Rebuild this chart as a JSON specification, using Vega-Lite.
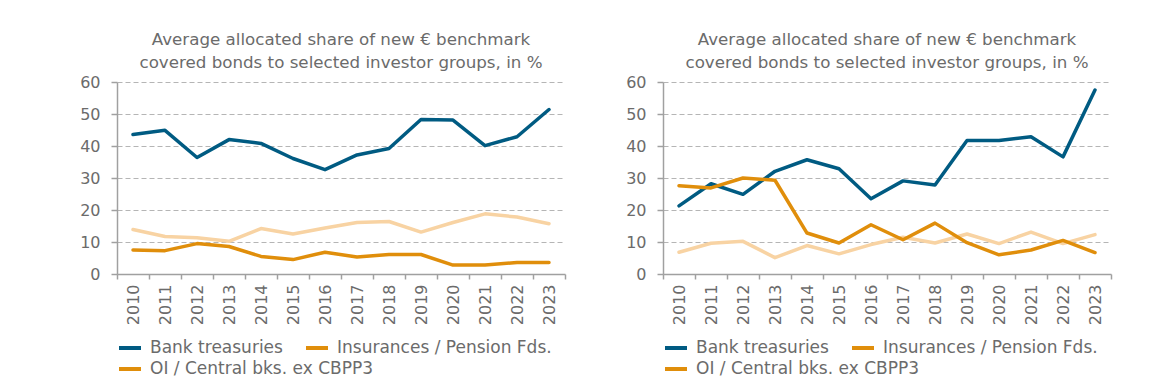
{
  "$schema": "https://vega.github.io/schema/vega-lite/v6.json",
  "padding": {"left": 79, "top": 32, "right": 10, "bottom": 5},
  "background": "white",
  "datasets": {
    "shares": [
      {"panel": "A", "year": "2010", "series": "Bank treasuries", "value": 43.6},
      {"panel": "A", "year": "2011", "series": "Bank treasuries", "value": 44.9},
      {"panel": "A", "year": "2012", "series": "Bank treasuries", "value": 36.4},
      {"panel": "A", "year": "2013", "series": "Bank treasuries", "value": 42.0},
      {"panel": "A", "year": "2014", "series": "Bank treasuries", "value": 40.8},
      {"panel": "A", "year": "2015", "series": "Bank treasuries", "value": 36.1},
      {"panel": "A", "year": "2016", "series": "Bank treasuries", "value": 32.6},
      {"panel": "A", "year": "2017", "series": "Bank treasuries", "value": 37.2},
      {"panel": "A", "year": "2018", "series": "Bank treasuries", "value": 39.2},
      {"panel": "A", "year": "2019", "series": "Bank treasuries", "value": 48.3},
      {"panel": "A", "year": "2020", "series": "Bank treasuries", "value": 48.1},
      {"panel": "A", "year": "2021", "series": "Bank treasuries", "value": 40.1},
      {"panel": "A", "year": "2022", "series": "Bank treasuries", "value": 42.9},
      {"panel": "A", "year": "2023", "series": "Bank treasuries", "value": 51.4},
      {"panel": "A", "year": "2010", "series": "Insurances / Pension Fds.", "value": 13.9},
      {"panel": "A", "year": "2011", "series": "Insurances / Pension Fds.", "value": 11.7},
      {"panel": "A", "year": "2012", "series": "Insurances / Pension Fds.", "value": 11.3},
      {"panel": "A", "year": "2013", "series": "Insurances / Pension Fds.", "value": 10.2},
      {"panel": "A", "year": "2014", "series": "Insurances / Pension Fds.", "value": 14.2},
      {"panel": "A", "year": "2015", "series": "Insurances / Pension Fds.", "value": 12.5},
      {"panel": "A", "year": "2016", "series": "Insurances / Pension Fds.", "value": 14.4},
      {"panel": "A", "year": "2017", "series": "Insurances / Pension Fds.", "value": 16.1},
      {"panel": "A", "year": "2018", "series": "Insurances / Pension Fds.", "value": 16.4},
      {"panel": "A", "year": "2019", "series": "Insurances / Pension Fds.", "value": 13.1},
      {"panel": "A", "year": "2020", "series": "Insurances / Pension Fds.", "value": 16.1},
      {"panel": "A", "year": "2021", "series": "Insurances / Pension Fds.", "value": 18.8},
      {"panel": "A", "year": "2022", "series": "Insurances / Pension Fds.", "value": 17.8},
      {"panel": "A", "year": "2023", "series": "Insurances / Pension Fds.", "value": 15.7},
      {"panel": "A", "year": "2010", "series": "OI / Central bks. ex CBPP3", "value": 7.5},
      {"panel": "A", "year": "2011", "series": "OI / Central bks. ex CBPP3", "value": 7.3},
      {"panel": "A", "year": "2012", "series": "OI / Central bks. ex CBPP3", "value": 9.5},
      {"panel": "A", "year": "2013", "series": "OI / Central bks. ex CBPP3", "value": 8.6},
      {"panel": "A", "year": "2014", "series": "OI / Central bks. ex CBPP3", "value": 5.5},
      {"panel": "A", "year": "2015", "series": "OI / Central bks. ex CBPP3", "value": 4.5},
      {"panel": "A", "year": "2016", "series": "OI / Central bks. ex CBPP3", "value": 6.8},
      {"panel": "A", "year": "2017", "series": "OI / Central bks. ex CBPP3", "value": 5.3},
      {"panel": "A", "year": "2018", "series": "OI / Central bks. ex CBPP3", "value": 6.1},
      {"panel": "A", "year": "2019", "series": "OI / Central bks. ex CBPP3", "value": 6.1},
      {"panel": "A", "year": "2020", "series": "OI / Central bks. ex CBPP3", "value": 2.8},
      {"panel": "A", "year": "2021", "series": "OI / Central bks. ex CBPP3", "value": 2.8},
      {"panel": "A", "year": "2022", "series": "OI / Central bks. ex CBPP3", "value": 3.6},
      {"panel": "A", "year": "2023", "series": "OI / Central bks. ex CBPP3", "value": 3.6},
      {"panel": "B", "year": "2010", "series": "Bank treasuries", "value": 21.3},
      {"panel": "B", "year": "2011", "series": "Bank treasuries", "value": 28.2},
      {"panel": "B", "year": "2012", "series": "Bank treasuries", "value": 24.9},
      {"panel": "B", "year": "2013", "series": "Bank treasuries", "value": 32.1},
      {"panel": "B", "year": "2014", "series": "Bank treasuries", "value": 35.7},
      {"panel": "B", "year": "2015", "series": "Bank treasuries", "value": 32.9},
      {"panel": "B", "year": "2016", "series": "Bank treasuries", "value": 23.5},
      {"panel": "B", "year": "2017", "series": "Bank treasuries", "value": 29.1},
      {"panel": "B", "year": "2018", "series": "Bank treasuries", "value": 27.8},
      {"panel": "B", "year": "2019", "series": "Bank treasuries", "value": 41.7},
      {"panel": "B", "year": "2020", "series": "Bank treasuries", "value": 41.7},
      {"panel": "B", "year": "2021", "series": "Bank treasuries", "value": 42.9},
      {"panel": "B", "year": "2022", "series": "Bank treasuries", "value": 36.6},
      {"panel": "B", "year": "2023", "series": "Bank treasuries", "value": 57.5},
      {"panel": "B", "year": "2010", "series": "Insurances / Pension Fds.", "value": 6.8},
      {"panel": "B", "year": "2011", "series": "Insurances / Pension Fds.", "value": 9.6},
      {"panel": "B", "year": "2012", "series": "Insurances / Pension Fds.", "value": 10.2},
      {"panel": "B", "year": "2013", "series": "Insurances / Pension Fds.", "value": 5.1},
      {"panel": "B", "year": "2014", "series": "Insurances / Pension Fds.", "value": 8.9},
      {"panel": "B", "year": "2015", "series": "Insurances / Pension Fds.", "value": 6.3},
      {"panel": "B", "year": "2016", "series": "Insurances / Pension Fds.", "value": 9.2},
      {"panel": "B", "year": "2017", "series": "Insurances / Pension Fds.", "value": 11.5},
      {"panel": "B", "year": "2018", "series": "Insurances / Pension Fds.", "value": 9.7},
      {"panel": "B", "year": "2019", "series": "Insurances / Pension Fds.", "value": 12.5},
      {"panel": "B", "year": "2020", "series": "Insurances / Pension Fds.", "value": 9.5},
      {"panel": "B", "year": "2021", "series": "Insurances / Pension Fds.", "value": 13.1},
      {"panel": "B", "year": "2022", "series": "Insurances / Pension Fds.", "value": 9.5},
      {"panel": "B", "year": "2023", "series": "Insurances / Pension Fds.", "value": 12.3},
      {"panel": "B", "year": "2010", "series": "OI / Central bks. ex CBPP3", "value": 27.6},
      {"panel": "B", "year": "2011", "series": "OI / Central bks. ex CBPP3", "value": 26.9},
      {"panel": "B", "year": "2012", "series": "OI / Central bks. ex CBPP3", "value": 30.0},
      {"panel": "B", "year": "2013", "series": "OI / Central bks. ex CBPP3", "value": 29.3},
      {"panel": "B", "year": "2014", "series": "OI / Central bks. ex CBPP3", "value": 12.8},
      {"panel": "B", "year": "2015", "series": "OI / Central bks. ex CBPP3", "value": 9.7},
      {"panel": "B", "year": "2016", "series": "OI / Central bks. ex CBPP3", "value": 15.4},
      {"panel": "B", "year": "2017", "series": "OI / Central bks. ex CBPP3", "value": 10.7},
      {"panel": "B", "year": "2018", "series": "OI / Central bks. ex CBPP3", "value": 15.9},
      {"panel": "B", "year": "2019", "series": "OI / Central bks. ex CBPP3", "value": 9.8},
      {"panel": "B", "year": "2020", "series": "OI / Central bks. ex CBPP3", "value": 6.0},
      {"panel": "B", "year": "2021", "series": "OI / Central bks. ex CBPP3", "value": 7.5},
      {"panel": "B", "year": "2022", "series": "OI / Central bks. ex CBPP3", "value": 10.5},
      {"panel": "B", "year": "2023", "series": "OI / Central bks. ex CBPP3", "value": 6.7}
    ]
  },
  "spacing": 59,
  "hconcat": [
    {
      "width": 448,
      "height": 192,
      "data": {"name": "shares"},
      "transform": [{"filter": "datum.panel === 'A'"}],
      "title": {"text": ["Average allocated share of new € benchmark", "covered bonds to selected investor groups, in %"]},
      "encoding": {
        "x": {"field": "year", "type": "ordinal", "bandPosition": 0.5, "scale": {"type": "band", "paddingInner": 0, "paddingOuter": 0}, "axis": {"title": null}},
        "y": {"field": "value", "type": "quantitative", "scale": {"domain": [0, 60]}, "axis": {"title": null, "values": [0, 10, 20, 30, 40, 50, 60]}}
      },
      "layer": [
        {
          "transform": [{"filter": "datum.series !== 'OI / Central bks. ex CBPP3'"}],
          "mark": {"type": "line", "strokeWidth": 3.5, "strokeJoin": "round", "strokeCap": "round"},
          "encoding": {
            "color": {
              "condition": {"test": "datum.series === 'Insurances / Pension Fds.'", "value": "#F8D3A3"},
              "field": "series", "type": "nominal",
              "scale": {"domain": ["Bank treasuries", "Insurances / Pension Fds."], "range": ["#005B82", "#E08E0B"]},
              "legend": {"title": null}
            }
          }
        },
        {
          "transform": [{"filter": "datum.series === 'OI / Central bks. ex CBPP3'"}],
          "mark": {"type": "line", "strokeWidth": 3.5, "strokeJoin": "round", "strokeCap": "round"},
          "encoding": {
            "stroke": {
              "field": "series", "type": "nominal",
              "scale": {"domain": ["OI / Central bks. ex CBPP3"], "range": ["#E08E0B"]},
              "legend": {"title": null}
            }
          }
        }
      ]
    },
    {
      "width": 448,
      "height": 192,
      "data": {"name": "shares"},
      "transform": [{"filter": "datum.panel === 'B'"}],
      "title": {"text": ["Average allocated share of new € benchmark", "covered bonds to selected investor groups, in %"]},
      "encoding": {
        "x": {"field": "year", "type": "ordinal", "bandPosition": 0.5, "scale": {"type": "band", "paddingInner": 0, "paddingOuter": 0}, "axis": {"title": null}},
        "y": {"field": "value", "type": "quantitative", "scale": {"domain": [0, 60]}, "axis": {"title": null, "values": [0, 10, 20, 30, 40, 50, 60]}}
      },
      "layer": [
        {
          "transform": [{"filter": "datum.series !== 'OI / Central bks. ex CBPP3'"}],
          "mark": {"type": "line", "strokeWidth": 3.5, "strokeJoin": "round", "strokeCap": "round"},
          "encoding": {
            "color": {
              "condition": {"test": "datum.series === 'Insurances / Pension Fds.'", "value": "#F8D3A3"},
              "field": "series", "type": "nominal",
              "scale": {"domain": ["Bank treasuries", "Insurances / Pension Fds."], "range": ["#005B82", "#E08E0B"]},
              "legend": {"title": null}
            }
          }
        },
        {
          "transform": [{"filter": "datum.series === 'OI / Central bks. ex CBPP3'"}],
          "mark": {"type": "line", "strokeWidth": 3.5, "strokeJoin": "round", "strokeCap": "round"},
          "encoding": {
            "stroke": {
              "field": "series", "type": "nominal",
              "scale": {"domain": ["OI / Central bks. ex CBPP3"], "range": ["#E08E0B"]},
              "legend": {"title": null}
            }
          }
        }
      ]
    }
  ],
  "resolve": {"scale": {"color": "independent", "stroke": "independent"}, "legend": {"color": "independent", "stroke": "independent"}},
  "config": {
    "font": "DejaVu Sans",
    "view": {"stroke": null},
    "title": {"fontSize": 16.7, "fontWeight": "normal", "color": "#6B6B6B", "lineHeight": 23, "offset": 2, "anchor": "middle", "font": "DejaVu Sans"},
    "axis": {
      "labelFont": "DejaVu Sans", "labelFontSize": 16, "labelColor": "#6B6B6B",
      "domainColor": "#A0A0A0", "domainWidth": 1.5, "tickColor": "#A0A0A0", "tickWidth": 1.5, "tickSize": 5
    },
    "axisY": {"grid": true, "gridColor": "#B5B5B5", "gridDash": [5, 3], "gridWidth": 1, "labelPadding": 11, "tickSize": 6},
    "axisX": {"grid": false, "tickBand": "extent", "labelAngle": -90, "labelPadding": 5, "tickSize": 5},
    "legend": {
      "orient": "bottom", "direction": "horizontal",
      "layout": {"bottom": {"anchor": "start", "direction": "vertical", "margin": -2}},
      "symbolType": "stroke", "symbolStrokeWidth": 4, "symbolSize": 484,
      "labelFont": "DejaVu Sans", "labelFontSize": 17, "labelColor": "#6B6B6B", "labelOffset": 7, "labelLimit": 0,
      "columnPadding": 15, "rowPadding": 0, "offset": 10, "padding": 0
    }
  }
}
